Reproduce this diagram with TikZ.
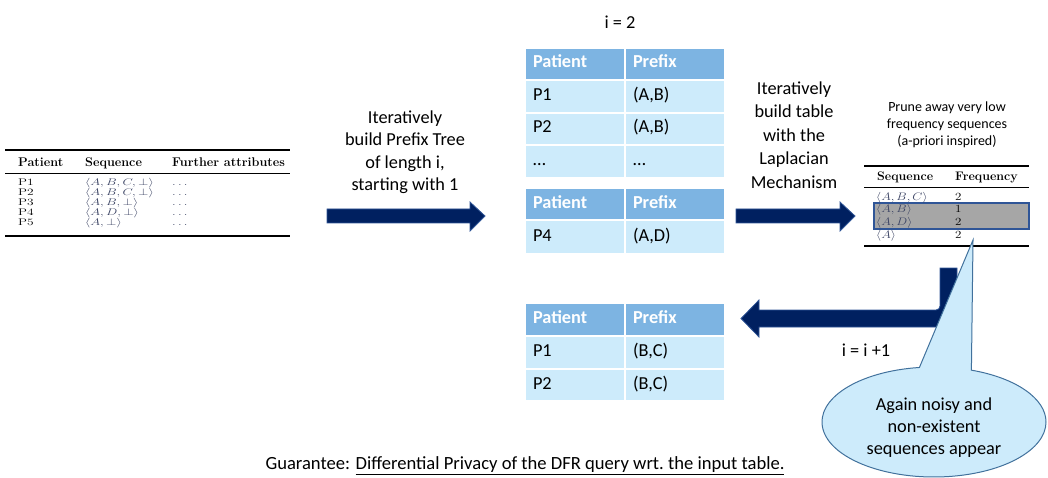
\RequirePackage{fix-cm}
\documentclass[tikz,border=0pt]{standalone}
\usepackage{fontspec}
\usepackage{graphicx}
\newfontfamily\calibri{Carlito}
\usetikzlibrary{shapes.callouts}

\definecolor{navy}{HTML}{002060}
\definecolor{navyline}{HTML}{2F5597}
\definecolor{hdblue}{HTML}{7DB4E2}
\definecolor{rowblue}{HTML}{CDEBFB}
\definecolor{callfill}{HTML}{CDEBFB}
\definecolor{callline}{HTML}{41719C}
\definecolor{seqgray}{RGB}{60,68,100}
\definecolor{prunegray}{RGB}{166,166,166}

% squeezed rows of the LaTeX-style tables
\newcommand\sqz[1]{\scalebox{1}[0.72]{#1}}
\newcommand\sqf[1]{\scalebox{1}[0.84]{#1}}

% one two-column row of a coloured table: name, top, height, style, left, right
\newcommand\cellpair[6]{%
  \node[#4, minimum height=#3, anchor=north west] (#1a) at (524,#2) {#5};
  \node[#4, minimum height=#3, anchor=north west] (#1b) at (624,#2) {#6};}

\tikzset{
  cellbase/.style={rectangle, draw=white, line width=2pt, minimum width=100,
    text width=84, inner xsep=8, inner ysep=0, align=left,
    text height=12, text depth=4},
  hdcell/.style={cellbase, fill=hdblue, text=white,
    font=\calibri\bfseries\fontsize{18.3}{22}\selectfont},
  rowcell/.style={cellbase, fill=rowblue, text=black,
    font=\calibri\fontsize{18.3}{22}\selectfont},
  caption/.style={align=center, font=\calibri\fontsize{18.3}{22.5}\selectfont},
  blockarrow/.style={fill=navy, draw=navyline, line width=0.8pt},
  texcell/.style={anchor=base west, inner sep=0},
}

\begin{document}
\begin{tikzpicture}[x=1pt,y=-1pt]
\useasboundingbox (0,0) rectangle (1048,478);

% ---------------- input table ----------------
\draw[line width=1.6pt] (5,150) -- (290,150);
\draw[line width=0.6pt] (5,173) -- (290,173);
\draw[line width=1.6pt] (5,236) -- (290,236);
\begin{scope}[font=\fontsize{13.4}{15}\selectfont]
  \node[texcell, font=\bfseries\fontsize{12.6}{14}\selectfont] (hPat) at (18,167) {Patient};
  \node[texcell, font=\bfseries\fontsize{12.6}{14}\selectfont] (hSeq) at (85,167) {Sequence};
  \node[texcell, font=\bfseries\fontsize{12.6}{14}\selectfont] (hAtt) at (172,167) {Further attributes};
  \node[texcell] (p1) at (18,185.5) {\sqz{P1}};
  \node[texcell] (p2) at (18,195.5) {\sqz{P2}};
  \node[texcell] (p3) at (18,205.5) {\sqz{P3}};
  \node[texcell] (p4) at (18,215.5) {\sqz{P4}};
  \node[texcell] (p5) at (18,225.5) {\sqz{P5}};
  \node[texcell, text=seqgray] (s1) at (85,185.5) {\sqz{$\langle A,B,C,\bot\rangle$}};
  \node[texcell, text=seqgray] (s2) at (85,195.5) {\sqz{$\langle A,B,C,\bot\rangle$}};
  \node[texcell, text=seqgray] (s3) at (85,205.5) {\sqz{$\langle A,B,\bot\rangle$}};
  \node[texcell, text=seqgray] (s4) at (85,215.5) {\sqz{$\langle A,D,\bot\rangle$}};
  \node[texcell, text=seqgray] (s5) at (85,225.5) {\sqz{$\langle A,\bot\rangle$}};
  \node[texcell, text=seqgray] (a1) at (172,185.5) {\sqz{$\ldots$}};
  \node[texcell, text=seqgray] (a2) at (172,195.5) {\sqz{$\ldots$}};
  \node[texcell, text=seqgray] (a3) at (172,205.5) {\sqz{$\ldots$}};
  \node[texcell, text=seqgray] (a4) at (172,215.5) {\sqz{$\ldots$}};
  \node[texcell, text=seqgray] (a5) at (172,225.5) {\sqz{$\ldots$}};
\end{scope}

% ---------------- captions ----------------
\node[caption] (iter) at (620,22) {i = 2};
\node[caption] (capTree) at (405,152)
  {Iteratively\\build Prefix Tree\\of length i,\\starting with 1};
\node[caption, font=\calibri\fontsize{18.3}{23.5}\selectfont] (capLap) at (794,135)
  {Iteratively\\build table\\with the\\Laplacian\\Mechanism};
\node[caption, font=\calibri\fontsize{14}{17}\selectfont] (capPrune) at (947,125)
  {Prune away very low\\frequency sequences\\(a-priori inspired)};
\node[caption] (incr) at (866,350) {i = i +1};

% ---------------- prefix tables ----------------
\cellpair{tAh}{47}{32}{hdcell}{Patient}{Prefix}
\cellpair{tAa}{79}{33}{rowcell}{P1}{(A,B)}
\cellpair{tAb}{112}{32}{rowcell}{P2}{(A,B)}
\cellpair{tAc}{144}{33}{rowcell}{…}{…}
\cellpair{tBh}{187}{32}{hdcell}{Patient}{Prefix}
\cellpair{tBa}{219}{34}{rowcell}{P4}{(A,D)}
\cellpair{tCh}{302}{33}{hdcell}{Patient}{Prefix}
\cellpair{tCa}{335}{33}{rowcell}{P1}{(B,C)}
\cellpair{tCb}{368}{32}{rowcell}{P2}{(B,C)}

% ---------------- frequency table ----------------
\fill[prunegray] (874,203) rectangle (1029,229);
\draw[navyline, line width=1.5pt] (874,203) rectangle (1029,229);
\draw[line width=1.6pt] (864,166) -- (1029,166);
\draw[line width=0.6pt] (864,187) -- (1029,187);
\draw[line width=1.6pt] (864,246) -- (1029,246);
\begin{scope}[font=\fontsize{13}{15}\selectfont]
  \node[texcell, font=\bfseries\fontsize{12.4}{14}\selectfont] (fSeq) at (877,181) {Sequence};
  \node[texcell, font=\bfseries\fontsize{12.4}{14}\selectfont] (fFrq) at (955,181) {Frequency};
  \node[texcell, text=seqgray] (q1) at (876,200.5) {\sqf{$\langle A,B,C\rangle$}};
  \node[texcell, text=seqgray] (q2) at (876,213) {\sqf{$\langle A,B\rangle$}};
  \node[texcell, text=seqgray] (q3) at (876,225.5) {\sqf{$\langle A,D\rangle$}};
  \node[texcell, text=seqgray] (q4) at (876,238) {\sqf{$\langle A\rangle$}};
  \node[texcell] (n1) at (955,200.5) {\sqf{2}};
  \node[texcell] (n2) at (955,213) {\sqf{1}};
  \node[texcell] (n3) at (955,225.5) {\sqf{2}};
  \node[texcell] (n4) at (955,238) {\sqf{2}};
\end{scope}

% ---------------- block arrows ----------------
\draw[blockarrow] (327,209) -- (470,209) -- (470,202) -- (485,216)
  -- (470,231) -- (470,223) -- (327,223) -- cycle;
\draw[blockarrow] (736,209) -- (840,209) -- (840,202) -- (855,216)
  -- (840,231) -- (840,223) -- (736,223) -- cycle;
\draw[blockarrow] (940,268) -- (957,268) -- (957,307)
  arc[start angle=0, end angle=90, radius=20] -- (759,327) -- (759,337)
  -- (741,318.5) -- (759,300) -- (759,310) -- (936,310)
  arc[start angle=90, end angle=0, radius=4] -- cycle;

% ---------------- callout ----------------
\node[ellipse callout, callout absolute pointer={(973,240)}, callout pointer arc=27,
  minimum width=224, minimum height=110, inner sep=0, fill=callfill,
  draw=callline, line width=1pt,
  font=\calibri\fontsize{18.3}{22}\selectfont] (note) at (934,422)
  {\raisebox{-6pt}[\height][\depth]{\begin{tabular}{@{}c@{}}Again noisy and\\non-existent\\sequences appear\end{tabular}}};

% ---------------- guarantee ----------------
\node[font=\calibri\fontsize{18.6}{22}\selectfont] (guar) at (525,466)
  {Guarantee: \underline{Differential Privacy of the DFR query wrt.\ the input table.}};
\end{tikzpicture}
\end{document}
